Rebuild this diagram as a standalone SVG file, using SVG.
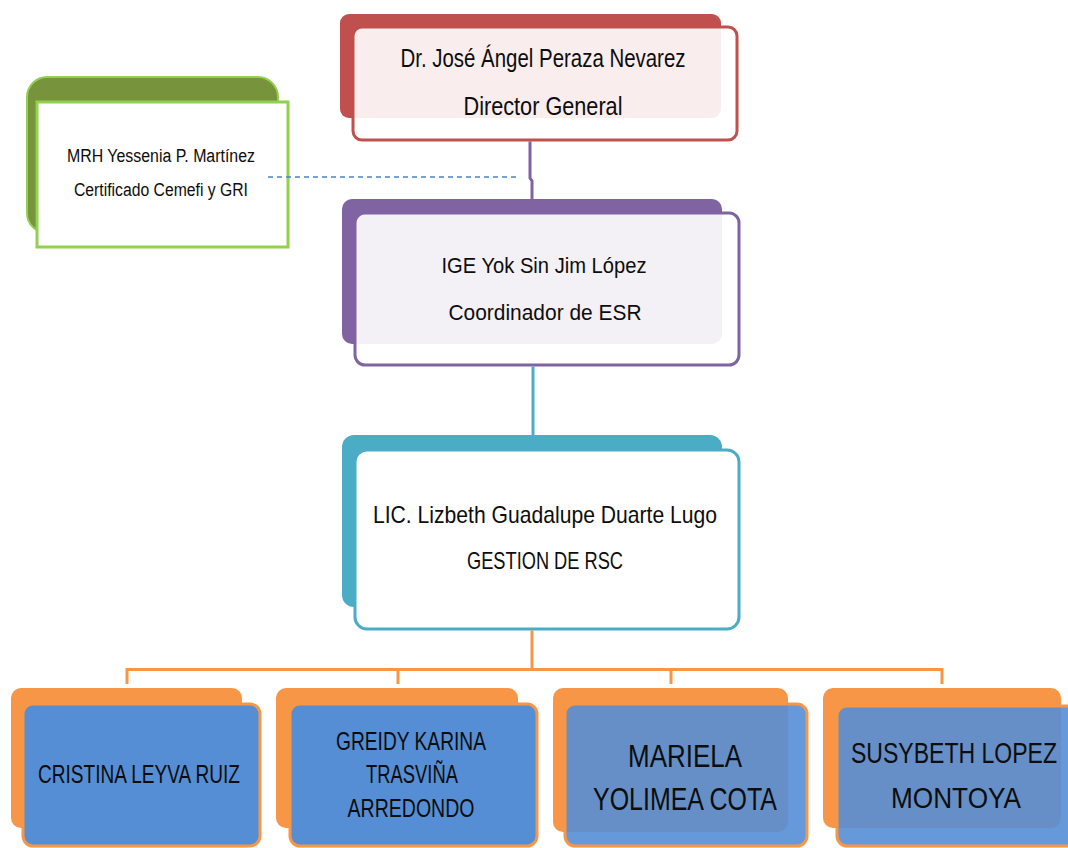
<svg xmlns="http://www.w3.org/2000/svg" width="1068" height="848" viewBox="0 0 1068 848">
<style>
text{font-family:"Liberation Sans",Arial,sans-serif;fill:#0d0d0d;text-anchor:middle}
.red-tab{fill:#C0504D}
.red-front{fill:#fff;fill-opacity:0.9;stroke:#C0504D;stroke-width:3}
.pur-tab{fill:#8064A2}
.pur-front{fill:#fff;fill-opacity:0.9;stroke:#8064A2;stroke-width:3}
.teal-tab{fill:#4BACC6}
.teal-front{fill:#fff;stroke:#4BACC6;stroke-width:3}
.grn-tab{fill:#77933C;stroke:#92D050;stroke-width:2}
.grn-front{fill:#fff;stroke:#92D050;stroke-width:3}
.org-tab{fill:#F79646}
.blue-front{fill:#558ED5;stroke:#F79646;stroke-width:3}
.blue-front-t{fill:#558ED5;fill-opacity:0.9;stroke:#F79646;stroke-width:3}
</style>
<rect width="1068" height="848" fill="#fff"/>
<g id="node-director">
<rect class="red-tab" x="340" y="14" width="381" height="104" rx="9"/>
<rect class="red-front" x="353" y="27" width="384" height="113" rx="9"/>
<text x="543" y="67" font-size="25" textLength="285" lengthAdjust="spacingAndGlyphs">Dr. José Ángel Peraza Nevarez</text>
<text x="543" y="115" font-size="25" textLength="159" lengthAdjust="spacingAndGlyphs">Director General</text>
</g>
<g id="node-advisor">
<rect class="grn-tab" x="27" y="77" width="251" height="156" rx="20"/>
<rect class="grn-front" x="37" y="102" width="251" height="145"/>
<text x="161" y="162" font-size="18" textLength="188" lengthAdjust="spacingAndGlyphs">MRH Yessenia P. Martínez</text>
<text x="161" y="196" font-size="18" textLength="174" lengthAdjust="spacingAndGlyphs">Certificado Cemefi y GRI</text>
</g>
<g id="node-coordinator">
<rect class="pur-tab" x="342" y="199" width="380" height="145" rx="10"/>
<rect class="pur-front" x="355" y="213" width="384" height="152" rx="10"/>
<text x="544" y="273" font-size="22" textLength="205" lengthAdjust="spacingAndGlyphs">IGE Yok Sin Jim López</text>
<text x="545" y="320" font-size="22" textLength="193" lengthAdjust="spacingAndGlyphs">Coordinador de ESR</text>
</g>
<g id="node-gestion">
<rect class="teal-tab" x="342" y="435" width="380" height="172" rx="12"/>
<rect class="teal-front" x="355" y="450" width="384" height="179" rx="12"/>
<text x="545" y="523" font-size="24" textLength="344" lengthAdjust="spacingAndGlyphs">LIC. Lizbeth Guadalupe Duarte Lugo</text>
<text x="545" y="569" font-size="24" textLength="156" lengthAdjust="spacingAndGlyphs">GESTION DE RSC</text>
</g>
<g id="node-cristina">
<rect class="org-tab" x="11" y="688" width="231" height="140" rx="10"/>
<rect class="blue-front" x="23" y="704" width="237" height="142" rx="10"/>
<text x="139" y="783" font-size="25" textLength="202" lengthAdjust="spacingAndGlyphs">CRISTINA LEYVA RUIZ</text>
</g>
<g id="node-greidy">
<rect class="org-tab" x="276" y="688" width="242" height="140" rx="10"/>
<rect class="blue-front" x="290" y="704" width="247" height="142" rx="10"/>
<text x="411" y="750" font-size="25" textLength="150" lengthAdjust="spacingAndGlyphs">GREIDY KARINA</text>
<text x="412" y="783" font-size="25" textLength="92" lengthAdjust="spacingAndGlyphs">TRASVIÑA</text>
<text x="411" y="817" font-size="25" textLength="127" lengthAdjust="spacingAndGlyphs">ARREDONDO</text>
</g>
<g id="node-mariela">
<rect class="org-tab" x="553" y="688" width="235" height="144" rx="10"/>
<rect class="blue-front-t" x="565" y="704" width="242" height="142" rx="10"/>
<text x="685" y="767" font-size="32" textLength="114" lengthAdjust="spacingAndGlyphs">MARIELA</text>
<text x="685" y="810" font-size="32" textLength="184" lengthAdjust="spacingAndGlyphs">YOLIMEA COTA</text>
</g>
<g id="node-susybeth">
<rect class="org-tab" x="823" y="688" width="238" height="140" rx="10"/>
<rect class="blue-front-t" x="837" y="706" width="245" height="140" rx="10"/>
<text x="954" y="763" font-size="30" textLength="206" lengthAdjust="spacingAndGlyphs">SUSYBETH LOPEZ</text>
<text x="956" y="808" font-size="30" textLength="130" lengthAdjust="spacingAndGlyphs">MONTOYA</text>
</g>
<g id="connectors" fill="none">
<path d="M530 141.5 V178 L532 181 V199" stroke="#8064A2" stroke-width="3"/>
<line x1="268" y1="177" x2="516" y2="177" stroke="#4F81BD" stroke-width="1.5" stroke-dasharray="5 4"/>
<line x1="533" y1="366.5" x2="533" y2="435" stroke="#4BACC6" stroke-width="3"/>
<path d="M532 630.5 V669.5 M127 684 V669.5 H942 V684 M398 684 V669.5 M671 684 V669.5" stroke="#F79646" stroke-width="3"/>
</g>
</svg>
